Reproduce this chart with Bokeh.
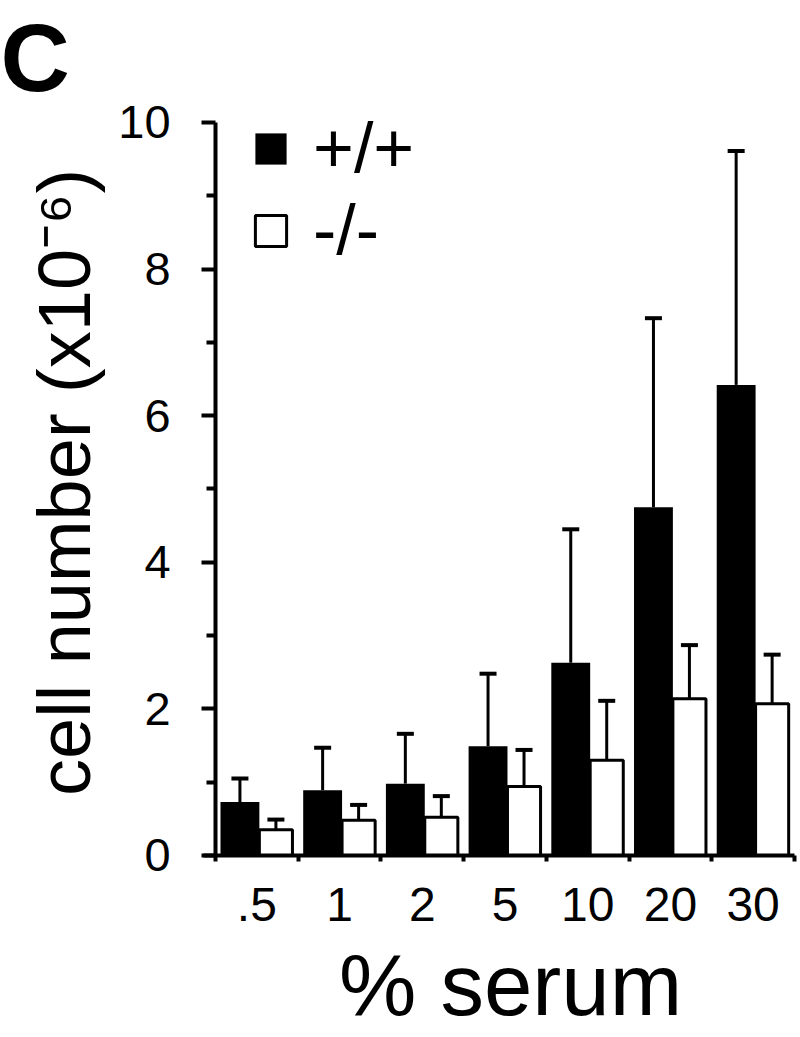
import numpy as np
from bokeh.plotting import figure
from bokeh.models import (Range1d, FixedTicker, Whisker, TeeHead, Legend, LegendItem,
                          ColumnDataSource, Label)
from bokeh.embed import file_html
from bokeh.resources import INLINE

# ---- data ----
categories = [".5", "1", "2", "5", "10", "20", "30"]          # % serum
wt_mean = [0.73, 0.89, 0.98, 1.49, 2.63, 4.75, 6.42]          # +/+  (x10^-6 cells)
wt_sd = [0.32, 0.58, 0.68, 0.99, 1.82, 2.58, 3.19]
ko_mean = [0.35, 0.48, 0.52, 0.94, 1.30, 2.14, 2.07]          # -/-
ko_sd = [0.14, 0.21, 0.29, 0.50, 0.81, 0.73, 0.67]
y_ticks = [0, 2, 4, 6, 8, 10]
y_minor = [1, 3, 5, 7, 9]

FONT = "Liberation Sans"

idx = np.arange(len(categories))
wt_src = ColumnDataSource(dict(x=idx + 0.295, top=wt_mean,
                               up=np.array(wt_mean) + np.array(wt_sd)))
ko_src = ColumnDataSource(dict(x=idx + 0.73, top=ko_mean,
                               up=np.array(ko_mean) + np.array(ko_sd)))

# the frame fills the whole canvas; axes are pinned at 0 so that the
# panel letter and axis titles can be placed freely
p = figure(width=800, height=1037, output_backend="svg", toolbar_location=None,
           x_range=Range1d(-2.600, 7.073), y_range=Range1d(-2.483, 11.664),
           min_border_left=0, min_border_right=0, min_border_top=0,
           min_border_bottom=0)
p.outline_line_color = None
p.xgrid.visible = False
p.ygrid.visible = False

r_wt = p.vbar(x="x", top="top", width=0.47, bottom=0, source=wt_src,
              fill_color="black", line_color=None)
r_ko = p.vbar(x="x", top="top", width=0.40, bottom=0, source=ko_src,
              fill_color="white", line_color="black", line_width=3)

for src in (wt_src, ko_src):
    w = Whisker(source=src, base="x", upper="up", lower="top", dimension="height",
                line_color="black", line_width=3,
                upper_head=TeeHead(size=17, line_width=4, line_color="black"),
                lower_head=None, level="underlay")
    p.add_layout(w)

# y axis
ya = p.yaxis[0]
ya.fixed_location = 0
ya.bounds = (0, 10)
ya.ticker = FixedTicker(ticks=y_ticks, minor_ticks=y_minor)
ya.axis_line_width = 4
ya.major_tick_line_width = 4
ya.minor_tick_line_width = 4
ya.major_tick_out = 14
ya.major_tick_in = 0
ya.minor_tick_out = 9
ya.minor_tick_in = 0
ya.major_label_text_font = FONT
ya.major_label_text_font_size = "47px"
ya.major_label_text_color = "black"
ya.major_label_standoff = 31

# x axis
xa = p.xaxis[0]
xa.fixed_location = 0
xa.bounds = (-0.15, 7)
centers = [float(i) + 0.5 for i in idx]
xa.ticker = FixedTicker(ticks=centers, minor_ticks=[float(i) for i in range(len(categories) + 1)])
xa.major_label_overrides = {c: lab for c, lab in zip(centers, categories)}
xa.axis_line_width = 4
xa.major_tick_out = 0
xa.major_tick_in = 0
xa.minor_tick_out = 6
xa.minor_tick_in = 0
xa.minor_tick_line_width = 4
xa.major_label_text_font = FONT
xa.major_label_text_font_size = "48px"
xa.major_label_text_color = "black"
xa.major_label_standoff = 27

# axis titles and panel letter
p.add_layout(Label(x=3.567, y=-1.760, text="% serum", text_font=FONT, text_font_size="87px",
                   text_align="center", text_baseline="alphabetic", text_color="black"))
p.add_layout(Label(x=-1.826, y=5.09, text="cell number (x10\u207b\u2076)", angle=np.pi / 2,
                   text_font=FONT, text_font_size="74px", text_align="center",
                   text_baseline="alphabetic", text_color="black"))
p.add_layout(Label(x=-2.6, y=10.887, text="C", text_font=FONT, text_font_size="96px",
                   text_font_style="bold", text_color="black", text_baseline="alphabetic"))

legend_style = dict(margin=0, padding=0, spacing=0, glyph_width=39, glyph_height=39,
                    label_standoff=23, label_text_font=FONT, label_text_font_size="70px",
                    label_text_color="black", border_line_color=None,
                    background_fill_alpha=0)
p.add_layout(Legend(items=[LegendItem(label="+/+", renderers=[r_wt])],
                    location=(251, 849), **legend_style))
p.add_layout(Legend(items=[LegendItem(label="-/-", renderers=[r_ko])],
                    location=(251, 767), **legend_style))

open("out.html", "w").write(file_html(p, INLINE))
